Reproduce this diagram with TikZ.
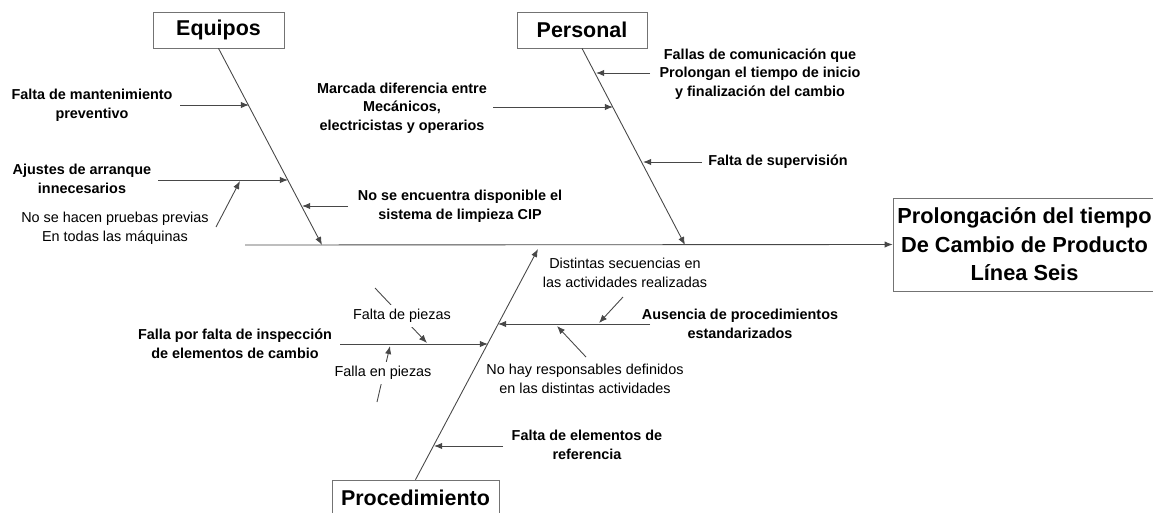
\documentclass[tikz,border=0pt]{standalone}
\usepackage{fontspec}
\setmainfont{Liberation Sans}
\usetikzlibrary{arrows.meta}

\def\causefont{\fontsize{8.2}{10.6}\selectfont}
\tikzset{
  catbox/.style={draw=black!55, fill=white, font=\fontsize{12.2}{14}\selectfont\bfseries,
    minimum height=0.72cm, inner sep=0pt},
  effectbox/.style={draw=black!55, fill=white, font=\fontsize{12.4}{16.2}\selectfont\bfseries,
    align=center, minimum width=5.26cm, minimum height=1.86cm, inner sep=0pt},
  causeb/.style={font=\causefont\bfseries, align=center, inner sep=1pt},
  causen/.style={font=\causefont, align=center, inner sep=1pt},
  spine/.style={draw=black!72, line width=0.5pt, -{Latex[length=4.6pt,width=3.6pt]}},
  cause/.style={spine}
}

\begin{document}
\begin{tikzpicture}[x=0.02cm, y=-0.02cm]
\clip (0,0) rectangle (1153,512);

\node [catbox, minimum width=2.62cm] (equipos) at (218.5,30) {Equipos};
\node [catbox, minimum width=2.6cm] (personal) at (582,30) {Personal};
\node [catbox, minimum width=3.34cm] (proced) at (415.5,498) {Procedimiento};
\node [effectbox] (efecto) at (1024.5,244.5) {Prolongación del tiempo\\De Cambio de Producto\\Línea Seis};

\coordinate (cola) at (245,245);
\coordinate (eqtip) at (322,245);
\coordinate (pertip) at (685,245);
\coordinate (protip) at (538,249);
\draw [spine] (cola) -- (efecto.west);
\draw [spine] (equipos.south) -- (eqtip);
\draw [spine] (personal.south) -- (pertip);
\draw [spine] (proced.north) -- (protip);

% equipos
\node [causeb] (mant) at (92,105) {Falta de mantenimiento\\preventivo};
\node [causeb] (ajus) at (82,179) {Ajustes de arranque\\innecesarios};
\node [causen] (prue) at (115,228) {No se hacen pruebas previas\\En todas las máquinas};
\node [causeb] (cip) at (460,206) {No se encuentra disponible el\\sistema de limpieza CIP};
\coordinate (e1) at (249,105); \coordinate (t1) at (180,105);
\coordinate (e2) at (288,180); \coordinate (t2) at (158,180);
\coordinate (e2b) at (240,181); \coordinate (t2b) at (216,227);
\coordinate (e3) at (302,206); \coordinate (t3) at (348,206);
\draw [cause] (t1) -- (e1);
\draw [cause] (t2) -- (e2);
\draw [cause] (t2b) -- (e2b);
\draw [cause] (t3) -- (e3);

% personal
\node [causeb] (fallas) at (760,74) {Fallas de comunicación que\\Prolongan el tiempo de inicio\\y finalización del cambio};
\node [causeb] (marc) at (402,108) {Marcada diferencia entre\\Mecánicos,\\electricistas y operarios};
\node [causeb] (superv) at (778,162) {Falta de supervisión};
\coordinate (p1) at (596,73); \coordinate (s1) at (650,73);
\coordinate (p2) at (613,107); \coordinate (s2) at (493,107);
\coordinate (p3) at (643,162); \coordinate (s3) at (702,162);
\draw [cause] (s1) -- (p1);
\draw [cause] (s2) -- (p2);
\draw [cause] (s3) -- (p3);

% procedimiento
\coordinate (r1) at (488,344); \coordinate (u1) at (340,344);
\coordinate (r1a) at (427,343); \coordinate (u1a) at (375,288);
\coordinate (r1b) at (390,346); \coordinate (u1b) at (377,402);
\coordinate (r2) at (498,324); \coordinate (u2) at (650,324);
\coordinate (r2a) at (599,323); \coordinate (u2a) at (623,297);
\coordinate (r2b) at (557,326); \coordinate (u2b) at (586,357);
\coordinate (r3) at (434,446); \coordinate (u3) at (503,446);
\draw [cause] (u1) -- (r1);
\draw [cause] (u1a) -- (r1a);
\draw [cause] (u1b) -- (r1b);
\draw [cause] (u2) -- (r2);
\draw [cause] (u2a) -- (r2a);
\draw [cause] (u2b) -- (r2b);
\draw [cause] (u3) -- (r3);
\node [causeb] (insp) at (235,344) {Falla por falta de inspección\\de elementos de cambio};
\node [causen, fill=white, inner sep=2.5pt] (piezas) at (402,316) {Falta de piezas};
\node [causen, fill=white, inner sep=2.5pt] (enpiezas) at (383,373) {Falla en piezas};
\node [causen] (secu) at (625,273) {Distintas secuencias en\\las actividades realizadas};
\node [causeb] (ausen) at (740,324) {Ausencia de procedimientos\\estandarizados};
\node [causen] (resp) at (585,379) {No hay responsables definidos\\en las distintas actividades};
\node [causeb] (refe) at (587,445) {Falta de elementos de\\referencia};
\end{tikzpicture}
\end{document}
